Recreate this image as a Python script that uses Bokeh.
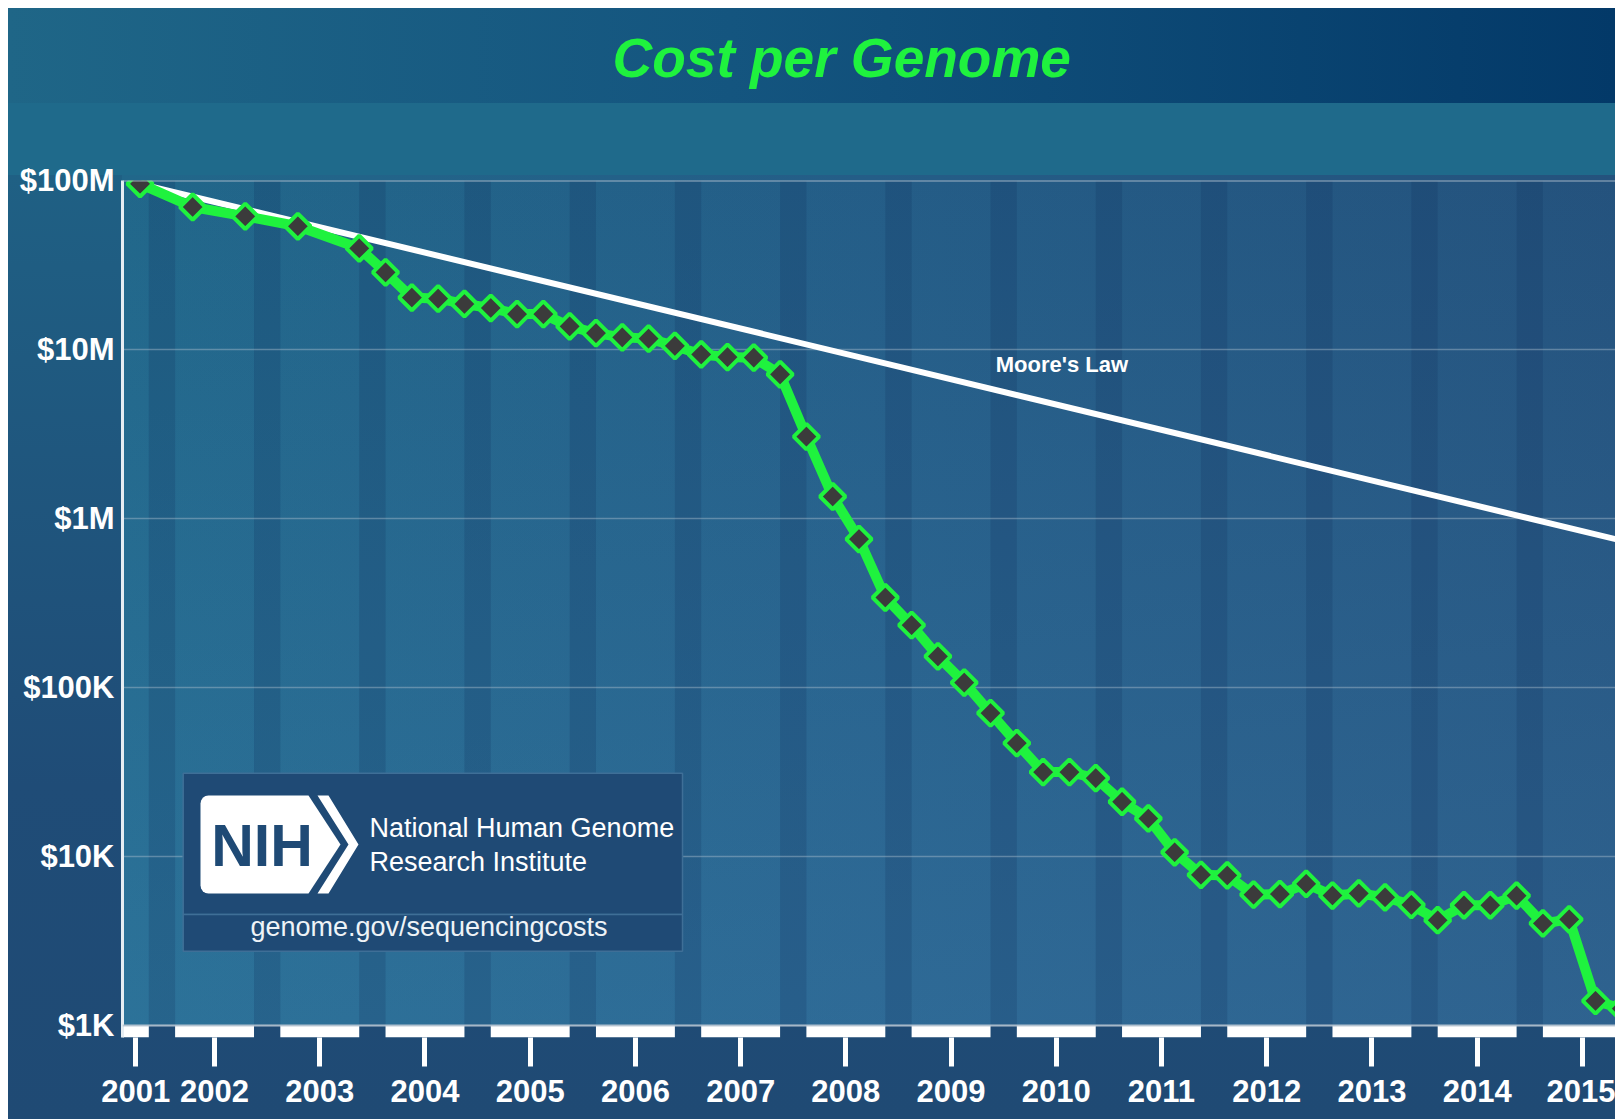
import numpy as np
from bokeh.plotting import figure
from bokeh.models import Range1d, FixedTicker, Label, BoxAnnotation, PolyAnnotation, Span, Title
from bokeh.embed import file_html
from bokeh.resources import INLINE

# ---------------- data ----------------
months = [
    "2001-09", "2002-03", "2002-09", "2003-03", "2003-10",
    "2004-01", "2004-04", "2004-07", "2004-10",
    "2005-01", "2005-04", "2005-07", "2005-10",
    "2006-01", "2006-04", "2006-07", "2006-10",
    "2007-01", "2007-04", "2007-07", "2007-10",
    "2008-01", "2008-04", "2008-07", "2008-10",
    "2009-01", "2009-04", "2009-07", "2009-10",
    "2010-01", "2010-04", "2010-07", "2010-10",
    "2011-01", "2011-04", "2011-07", "2011-10",
    "2012-01", "2012-04", "2012-07", "2012-10",
    "2013-01", "2013-04", "2013-07", "2013-10",
    "2014-01", "2014-04", "2014-07", "2014-10",
    "2015-01", "2015-04", "2015-07", "2015-10",
]
cost_per_genome = [
    95.6e6, 69.7e6, 61.4e6, 53.6e6, 39.7e6,
    28.6e6, 20.3e6, 20.0e6, 18.6e6,
    17.6e6, 16.2e6, 16.2e6, 13.7e6,
    12.5e6, 11.8e6, 11.6e6, 10.5e6,
    9.35e6, 9.02e6, 8.95e6, 7.13e6,
    3.05e6, 1.35e6, 755e3, 341e3,
    234e3, 153e3, 107e3, 70.6e3,
    46.9e3, 31.6e3, 31.6e3, 29.1e3,
    21.1e3, 16.8e3, 10.6e3, 7.8e3,
    7.73e3, 5.95e3, 6.0e3, 6.9e3,
    5.88e3, 6.05e3, 5.74e3, 5.18e3,
    4.2e3, 5.15e3, 5.15e3, 5.87e3,
    4.02e3, 4.25e3, 1.40e3, 1.26e3,
]
moore_months = ["2001-09", "2015-10"]
moore_cost = [95.3e6, 0.74e6]

year_labels = ["2001", "2002", "2003", "2004", "2005", "2006", "2007", "2008",
               "2009", "2010", "2011", "2012", "2013", "2014", "2015"]
y_tick_values = [1e3, 1e4, 1e5, 1e6, 1e7, 1e8]
y_tick_labels = ["$1K", "$10K", "$100K", "$1M", "$10M", "$100M"]


def frac_year(s):
    y, m = s.split("-")
    return int(y) + (int(m) - 1) / 12.0


x = [frac_year(s) for s in months]
mx = [frac_year(s) for s in moore_months]
years = [int(s) for s in year_labels]

X_START, X_END = 2001.5, 2015.69
Y_START, Y_END = 850, 1e8

GREEN = "#1ff23e"
SANS = "Liberation Sans"

p = figure(width=1607, height=1111,
           x_range=Range1d(X_START, X_END), y_range=Range1d(Y_START, Y_END),
           y_axis_type="log", output_backend="svg", toolbar_location=None, tools="",
           min_border_left=114, min_border_right=0, min_border_top=167, min_border_bottom=82)

p.background_fill_alpha = 0
p.border_fill_alpha = 0
p.outline_line_color = None

layers = [
    "linear-gradient(to right, #1f6687 0%, #14557f 45%, #033968 100%) 0px 0px / 100% 95px no-repeat",
    "linear-gradient(#1f6a8b, #1f6a8b) 0px 95px / 100% 72px no-repeat",
    "linear-gradient(to bottom, rgba(80,150,200,0.0) 0%, rgba(80,150,200,0.24) 100%) 114px 167px / 1493px 850px no-repeat",
    "linear-gradient(to right, #21678a 0%, #245d87 50%, #24527d 100%) 114px 167px / 1493px 850px no-repeat",
    "linear-gradient(to bottom, #1f6486 0%, #1f6084 15%, #1f4c77 70%, #1f4a74 100%)",
]
p.styles = {"background": ", ".join(layers), "margin-left": "8px", "margin-top": "8px"}

# title (a blank second line lifts it into the top band)
p.add_layout(Title(text="Cost per Genome\n ", align="left", offset=490, standoff=34,
                   vertical_align="bottom", text_font=SANS, text_font_style="bold italic",
                   text_font_size="55px", text_line_height=1.2, text_color=GREEN), "above")

# darker quarter stripes (Oct -> Jan) and white blocks below the axis (Jan -> Oct)
stripe_left = [yr + 0.75 for yr in years]
stripe_right = [yr + 1.0 for yr in years]
p.quad(left=stripe_left, right=stripe_right, bottom=y_tick_values[0], top=Y_END,
       fill_color="#0f2f58", fill_alpha=0.2, line_color=None, level="image")
p.quad(left=years, right=stripe_left, bottom=Y_START, top=y_tick_values[0],
       fill_color="white", line_color=None)

# grid
p.xgrid.visible = False
p.ygrid.ticker = FixedTicker(ticks=y_tick_values)
p.ygrid.grid_line_color = "#a8bccd"
p.ygrid.grid_line_alpha = 0.45
p.ygrid.grid_line_width = 1.5
for loc in (y_tick_values[0], y_tick_values[-1]):
    p.add_layout(Span(location=loc, dimension="width", line_color="#b4c3d0",
                      line_width=2, line_alpha=0.85))

# axes
tick_pos = [max(yr + 0.375, (X_START + yr + 0.75) / 2) for yr in years]
xa = p.xaxis[0]
xa.ticker = FixedTicker(ticks=tick_pos)
xa.major_label_overrides = {t: lab for t, lab in zip(tick_pos, year_labels)}
xa.axis_line_color = None
xa.major_tick_line_color = "white"
xa.major_tick_line_width = 5
xa.major_tick_out = 29
xa.major_tick_in = 0
xa.minor_tick_line_color = None
xa.major_label_text_color = "white"
xa.major_label_text_font = SANS
xa.major_label_text_font_style = "bold"
xa.major_label_text_font_size = "31px"
xa.major_label_standoff = 13

ya = p.yaxis[0]
ya.ticker = FixedTicker(ticks=y_tick_values)
ya.major_label_overrides = {t: lab for t, lab in zip(y_tick_values, y_tick_labels)}
ya.axis_line_color = "#e6edf2"
ya.axis_line_width = 3
ya.major_tick_out = 0
ya.major_tick_in = 0
ya.minor_tick_line_color = None
ya.major_label_text_color = "white"
ya.major_label_text_font = SANS
ya.major_label_text_font_style = "bold"
ya.major_label_text_font_size = "31px"
ya.major_label_standoff = 8

# Moore's law and cost series
p.line(mx, moore_cost, line_color="white", line_width=6)
p.line(x, cost_per_genome, line_color=GREEN, line_width=10, line_join="round")
p.scatter(x, cost_per_genome, marker="square", angle=np.pi / 4, size=18,
          fill_color="#3b3b3b", line_color=GREEN, line_width=4)

p.add_layout(Label(x=2009.8, y=6.84e6, text="Moore's Law", text_align="left",
                   text_baseline="bottom", text_font=SANS,
                   text_font_style="bold", text_font_size="22px", text_color="white"))

# NIH box (frame screen units)
BOX_FILL = "#1f4a75"
BOX_LINE = "#3f6f97"
for b, t in ((123, 264.3), (86.3, 123)):
    p.add_layout(BoxAnnotation(left=60.7, right=560, bottom=b, top=t,
                               left_units="screen", right_units="screen",
                               bottom_units="screen", top_units="screen",
                               fill_color=BOX_FILL, fill_alpha=1, line_color=BOX_LINE,
                               line_width=1.5, line_alpha=1))

r = 8.0
arc_lo = np.linspace(-np.pi / 2, -np.pi, 5)
arc_hi = np.linspace(np.pi, np.pi / 2, 5)
tag_xs = [86, 186, 218, 186] + [86 + r * np.cos(a) for a in arc_lo] + [86 + r * np.cos(a) for a in arc_hi]
tag_ys = [242, 242, 193, 144] + [152 + r * np.sin(a) for a in arc_lo] + [234 + r * np.sin(a) for a in arc_hi]
p.add_layout(PolyAnnotation(xs=[float(v) for v in tag_xs], ys=[float(v) for v in tag_ys],
                            xs_units="screen", ys_units="screen",
                            fill_color="white", fill_alpha=1, line_color=None))
p.add_layout(PolyAnnotation(xs=[195, 206, 236, 206, 195, 226], ys=[242, 242, 193, 144, 144, 193],
                            xs_units="screen", ys_units="screen",
                            fill_color="white", fill_alpha=1, line_color=None))
p.add_layout(Label(x=139.5, y=158.5, x_units="screen", y_units="screen", text="NIH",
                   text_align="center", text_baseline="bottom", text_font=SANS,
                   text_font_style="bold", text_font_size="59px", text_color=BOX_FILL))
for txt, yy in (("National Human Genome", 194.3), ("Research Institute", 160.6)):
    p.add_layout(Label(x=247, y=yy, x_units="screen", y_units="screen", text=txt,
                       text_align="left", text_baseline="bottom", text_font=SANS,
                       text_font_size="27px", text_color="white"))
p.add_layout(Label(x=306.5, y=95.3, x_units="screen", y_units="screen",
                   text="genome.gov/sequencingcosts", text_align="center",
                   text_baseline="bottom", text_font=SANS,
                   text_font_size="27px", text_color="#eef3f7"))

open("out.html", "w").write(file_html(p, INLINE))
